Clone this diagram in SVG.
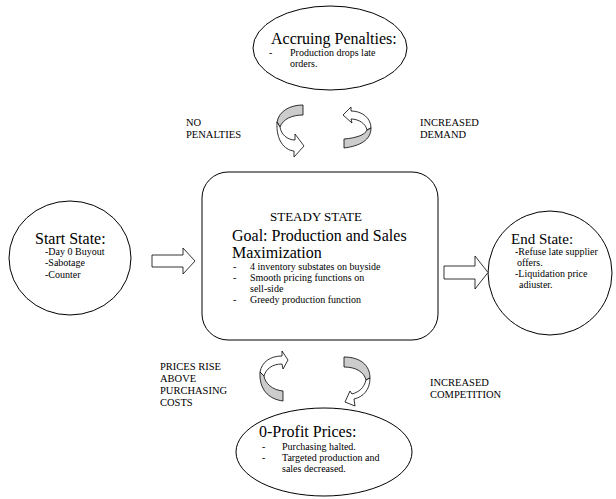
<svg xmlns="http://www.w3.org/2000/svg" width="616" height="499" viewBox="0 0 616 499">
<style>
.sh{fill:#fff;stroke:#000;stroke-width:1}
.g{fill:#cccccc;stroke:#000;stroke-width:0.8;stroke-linejoin:round}
.w{fill:#fff;stroke:#000;stroke-width:0.8;stroke-linejoin:round}
text{font-family:"Liberation Serif","Times New Roman",serif;fill:#000}
.lb{font-size:10.5px}
.sm{font-size:10px}
.hd{font-size:16px}
</style>
<rect width="616" height="499" fill="#fff"/>
<g id="accruing">
<ellipse class="sh" cx="330" cy="48" rx="77" ry="42"/>
<text class="hd" x="271" y="44">Accruing Penalties:</text>
<text class="sm" x="269" y="56">-</text>
<text class="sm" x="290" y="56">Production drops late</text>
<text class="sm" x="290" y="67">orders.</text>
</g>
<g id="start">
<ellipse class="sh" cx="70" cy="258" rx="61" ry="57"/>
<text class="hd" x="35" y="244">Start State:</text>
<text class="sm" x="45" y="255">-Day 0 Buyout</text>
<text class="sm" x="45" y="266">-Sabotage</text>
<text class="sm" x="45" y="278">-Counter</text>
</g>
<g id="steady">
<rect class="sh" x="202" y="172" width="236" height="168" rx="26" ry="26"/>
<text x="270" y="221" font-size="13">STEADY STATE</text>
<text class="hd" x="232" y="241">Goal: Production and Sales</text>
<text class="hd" x="232" y="258">Maximization</text>
<text class="sm" x="233" y="270">-</text>
<text class="sm" x="250" y="270">4 inventory substates on buyside</text>
<text class="sm" x="233" y="281">-</text>
<text class="sm" x="250" y="281">Smooth pricing functions on</text>
<text class="sm" x="250" y="292">sell-side</text>
<text class="sm" x="233" y="303">-</text>
<text class="sm" x="250" y="303">Greedy production function</text>
</g>
<g id="end">
<ellipse class="sh" cx="550" cy="273" rx="62" ry="62"/>
<text x="511" y="244" font-size="15">End State:</text>
<text class="sm" x="515" y="255">-Refuse late supplier</text>
<text class="sm" x="517" y="266">offers.</text>
<text class="sm" x="515" y="277">-Liquidation price</text>
<text class="sm" x="519" y="288">adiuster.</text>
</g>
<g id="zeroprofit">
<ellipse class="sh" cx="324" cy="452" rx="88" ry="44"/>
<text class="hd" x="259" y="437">0-Profit Prices:</text>
<text class="sm" x="262" y="450">-</text>
<text class="sm" x="282" y="450">Purchasing halted.</text>
<text class="sm" x="262" y="461">-</text>
<text class="sm" x="282" y="461">Targeted production and</text>
<text class="sm" x="282" y="472">sales decreased.</text>
</g>
<g id="labels">
<text class="lb" x="186" y="126">NO</text>
<text class="lb" x="186" y="138">PENALTIES</text>
<text class="lb" x="420" y="126">INCREASED</text>
<text class="lb" x="420" y="138">DEMAND</text>
<text class="lb" x="160" y="370">PRICES RISE</text>
<text class="lb" x="160" y="382">ABOVE</text>
<text class="lb" x="160" y="394">PURCHASING</text>
<text class="lb" x="160" y="406">COSTS</text>
<text class="lb" x="430" y="386">INCREASED</text>
<text class="lb" x="430" y="398">COMPETITION</text>
</g>
<g id="connectors">
<polygon class="w" points="152,255 183,255 183,248 195,261 183,274 183,267 152,267"/>
<polygon class="w" points="444,266 475,266 475,256 488,272.5 475,289 475,279 444,279"/>
<path class="g" d="M303,105 L303,115 C292,115 283,119 280,127 L277,122 C279,111 290,105 303,105 Z"/>
<path class="w" d="M277,122 C276,140 284,150 294,151 L294,157 L304,146 L295,134 L295,140 C287,140 281,134 280,127 Z"/>
<path class="w" d="M343,115 L351,107 L351,111 C362,111 371,118 371,128 L367,130 C366,124 359,119 351,119 L352,123 Z"/>
<path class="g" d="M371,128 C371,140 360,146 344,148 L344,139 C356,138 365,135 367,130 Z"/>
<path class="w" d="M288,360 L282,351 L282,356 C270,356 262,362 260,372 L264,376 C266,369 272,364 282,364 L283,369 Z"/>
<path class="g" d="M260,372 C259,389 268,399 283,401 L283,391 C272,390 265,383 264,376 Z"/>
<path class="g" d="M344,357 C360,357 370,365 370,378 L366,380 C364,372 356,367 344,367 Z"/>
<path class="w" d="M370,378 C370,390 363,397 354,399 L355,406 L345,402 L350,391 L352,394 C359,392 364,388 366,380 Z"/>
</g>
</svg>
